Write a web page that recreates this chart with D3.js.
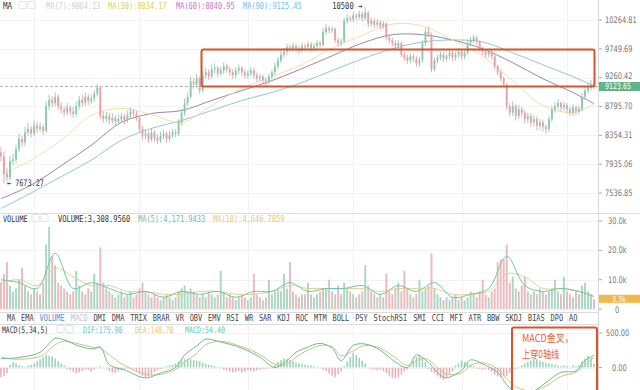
<!DOCTYPE html>
<html><head><meta charset="utf-8">
<script src="https://cdn.jsdelivr.net/npm/d3@7"></script>
<style>html,body{margin:0;padding:0;background:#fff;overflow:hidden}</style>
</head><body><svg id="c" width="640" height="390"></svg>
<script>
// ---------------- DATA ----------------
const opens=[8100,8050,7800,7750,7980,8000,8150,8300,8250,8400,8450,8380,8500,8450,8480,8420,8800,8900,8850,8950,8800,8750,8700,8780,8720,8680,8800,8900,8850,8950,8880,8920,9000,9100,8650,8600,8650,8580,8620,8560,8600,8640,8580,8660,8720,8690,8620,8450,8350,8380,8300,8400,8320,8280,8350,8380,8300,8360,8400,8380,8550,8700,8850,8950,9200,9150,9250,9050,9300,9350,9280,9400,9420,9330,9380,9450,9400,9350,9300,9380,9420,9350,9300,9330,9380,9300,9250,9280,9220,9200,9280,9350,9450,9550,9650,9700,9780,9750,9800,9760,9720,9800,9780,9830,9760,9800,9850,9820,10050,10120,10080,10100,9900,9850,9880,10250,10300,10280,10350,10320,10380,10300,10400,10200,10250,10180,10220,10150,10200,9950,9900,9850,9800,9850,9650,9600,9550,9620,9580,9500,9560,9850,10050,10000,9400,9550,9600,9650,9580,9620,9680,9600,9650,9700,9620,9680,9850,9900,9950,9880,9750,9700,9650,9700,9620,9450,9350,9250,9150,8800,8700,8800,8650,8750,8700,8600,8650,8550,8600,8500,8550,8480,8450,8600,8750,8800,8850,8780,8820,8750,8700,8780,8720,8760,8950,9050,9100,9150];
const highs=[8180,8120,7880,8050,8080,8220,8380,8350,8480,8540,8500,8580,8560,8550,8520,8880,8980,8960,9020,8990,8860,8800,8850,8820,8790,8870,8960,8980,9020,9000,8990,9060,9160,9130,8720,8710,8700,8690,8660,8670,8700,8680,8730,8780,8760,8730,8650,8500,8440,8420,8460,8440,8370,8410,8430,8410,8420,8450,8440,8600,8760,8920,9020,9280,9260,9320,9280,9380,9420,9400,9480,9500,9460,9440,9520,9490,9440,9400,9440,9480,9460,9400,9380,9440,9420,9350,9330,9310,9260,9330,9400,9510,9610,9720,9760,9840,9820,9860,9840,9800,9860,9840,9890,9870,9850,9910,9890,10120,10190,10160,10150,10130,9950,9930,10310,10370,10340,10410,10390,10440,10420,10500,10430,10310,10290,10280,10260,10250,10220,10000,9940,9900,9900,9880,9700,9650,9680,9660,9620,9610,9900,10120,10150,10040,9600,9650,9700,9690,9670,9730,9720,9700,9760,9740,9730,9910,9960,10000,9980,9900,9790,9740,9750,9730,9650,9480,9390,9280,9170,8850,8880,8840,8820,8790,8740,8700,8690,8660,8640,8600,8590,8520,8650,8810,8860,8910,8880,8870,8850,8790,8830,8810,8800,9010,9110,9170,9220,9180];
const lows=[7980,7673.27,7700,7710,7920,7950,8100,8180,8200,8350,8320,8340,8380,8400,8360,8400,8740,8790,8800,8740,8690,8640,8660,8660,8620,8640,8750,8790,8800,8820,8840,8870,8950,8600,8540,8550,8520,8530,8500,8510,8550,8520,8540,8610,8640,8570,8400,8290,8300,8240,8260,8260,8230,8240,8300,8250,8260,8310,8330,8340,8500,8650,8800,8920,9080,9100,9000,9020,9240,9220,9240,9340,9270,9280,9320,9340,9290,9240,9250,9320,9290,9240,9250,9280,9240,9190,9200,9160,9120,9150,9230,9300,9400,9500,9600,9650,9690,9700,9700,9660,9680,9720,9740,9700,9710,9750,9770,9790,9990,10020,10030,9850,9790,9800,9850,10190,10220,10230,10260,10270,10240,10260,10140,10150,10120,10130,10090,10100,9900,9840,9790,9740,9760,9600,9540,9490,9500,9520,9440,9450,9520,9800,9950,9350,9360,9500,9550,9520,9530,9570,9540,9550,9600,9560,9570,9650,9800,9850,9820,9700,9640,9590,9600,9560,9400,9300,9200,9100,8740,8640,8650,8580,8600,8640,8530,8540,8480,8490,8430,8440,8410,8380,8400,8560,8700,8750,8720,8730,8690,8640,8650,8660,8670,8720,8900,9000,9050,9080];
const closes=[8050,7800,7750,7980,8000,8150,8300,8250,8400,8450,8380,8500,8450,8480,8420,8800,8900,8850,8950,8800,8750,8700,8780,8720,8680,8800,8900,8850,8950,8880,8920,9000,9100,8650,8600,8650,8580,8620,8560,8600,8640,8580,8660,8720,8690,8620,8450,8350,8380,8300,8400,8320,8280,8350,8380,8300,8360,8400,8380,8550,8700,8850,8950,9200,9150,9250,9050,9300,9350,9280,9400,9420,9330,9380,9450,9400,9350,9300,9380,9420,9350,9300,9330,9380,9300,9250,9280,9220,9200,9280,9350,9450,9550,9650,9700,9780,9750,9800,9760,9720,9800,9780,9830,9760,9800,9850,9820,10050,10120,10080,10100,9900,9850,9880,10250,10300,10280,10350,10320,10380,10300,10400,10200,10250,10180,10220,10150,10200,9950,9900,9850,9800,9850,9650,9600,9550,9620,9580,9500,9560,9850,10050,10000,9400,9550,9600,9650,9580,9620,9680,9600,9650,9700,9620,9680,9850,9900,9950,9880,9750,9700,9650,9700,9620,9450,9350,9250,9150,8800,8700,8800,8650,8750,8700,8600,8650,8550,8600,8500,8550,8480,8450,8600,8750,8800,8850,8780,8820,8750,8700,8780,8720,8760,8950,9050,9100,9150,9123.65];
// volume in thousands
const volumes=[9,12,16,8,6,7,10,14,8,6,5,7,6,5,9, 22,28,18,15,9,8, 7,6,5,6,13,8,6,5,7,6,12,9,21, 9,7,6,5,4,5,6,4,5,6,4,5,7, 9,6,5,4,5,4,3,4,5,4,3,4,6,7,8,6, 7,6,5,4,5,4,6,5,4,5,13,6,4,5,4,3,4,5,4,3,4,12,5,4,3,4, 10,5,6,7,6,12,7,16,6,5,4,5,5,9,5,4,5,6,7,7, 10,6,5,8,5,9,7,6,5,4,5,6,15,8,6,5,4,5,4, 12,6,5,7,9,6,13,7,5,4,5,10,6,7,8,19, 7,5,4,3,4,3,4,5,3,4,3,4,6,5,4,6,10,5,4,6,7,16, 17,17,22,9,11,7,6,8,11,6,5,6,5,7,6,5, 6,7,10,6,5,11,6,5,4,6,5,8,9,6,5,3.309];
const maIdx=[0,10,20,30,40,50,60,70,80,90,100,110,120,130,140,150,160,170,180,190,197];
const ma30=[7780,7992,8281,8656,8765,8670,8550,8812,9082,9276,9480,9760,9990,10190,10155,9905,9629,9212,8812,8702,8834.17];
const ma60=[7460,7643,7913,8208,8549,8686,8733,8891,9050,9212,9411,9629,9850,9999,9999,9905,9750,9510,9244,9018,8840.95];
const ma90=[7330,7537,7760,7992,8281,8458,8579,8733,8891,9018,9180,9378,9576,9750,9870,9905,9870,9681,9476,9276,9125.45];
const volMaIdx=[0,6,12,18,24,30,36,42,48,54,60,66,72,78,84,90,96,102,108,114,120,126,132,138,144,150,156,162,168,174,180,186,192,197];
const volMa5=[10,9,7,19,7,9,7,5,6,4,6,5,6,4,6,6,9,6,7,7,8,5,8,6,9,4,5,7,18,8,6,7,6,4.17];
const volMa10=[9,10,8,14,11,8,8,6,6,5,5,6,6,5,5,6,8,7,7,7,7,6,7,7,7,5,5,6,12,11,7,7,6,4.65];
const macdIdx=[0,5,13,16,18,21,26,31,33,36,41,48,53,58,61,65,68,73,80,86,91,95,98,101,106,110,113,117,121,126,131,135,138,141,146,148,153,156,160,165,168,171,176,181,186,191,194,197];
const dif=[130,140,220,350,425,400,310,270,300,40,-35,-150,-80,0,180,310,410,370,280,150,0,100,220,280,350,280,100,320,340,250,80,0,180,110,-110,-150,-40,110,50,-70,-250,-360,-360,-220,-70,-50,100,175.98];
const dea=[150,120,160,250,330,380,340,290,280,180,30,-100,-100,-30,80,200,330,380,300,190,50,50,150,230,320,300,170,240,320,280,140,30,100,130,-40,-100,-80,30,70,-20,-160,-280,-340,-270,-130,-70,40,148.78];
const macdHist=[-140,-120,-80, 40,80,60,30, 20,10,30,40,60,90, 120,150,180,170,160,130, 90,60,30, -20,-40,-60,-80,-70,-50,-30,-40,-60,-30,-10, 20,10,-10, -50,-70,-80,-60,-40,-20, -10,10,-20,-50, -90,-120,-140,-130,-100,-70, -40,-20,10,20,30,40, 60,80,100,120,130,120,110,100,90,70, 50,40,30,20,10,-10, -30,-40,-60,-70,-60,-50,-70,-60,-40,-50,-60,-40, -30,-20,-20,-10,10, 40,80,110,130,120,110,90,70,60, 50,40,30,30,20,10, -10,-30,-50, -90,-120,-140,-100,-60,20, 90,150,210,180,140,100,60, -10,-20,-30,-40,-30,-50, -80,-120,-150,-160,-140,-100, -60,-30,20, 100,150,180,130,80, -20,-60,-80,-120, -160,-180,-150,-100,-60, 30,60,100,80,60,40,20, -10,-20,-30,-20, -40,-60,-100,-130,-140,-130,-120,-80, -40,-20,10, 30,60,80,100,130,120,100,80,70,60,50,40,30, 20,30,20,10,30,20,40, 90,130,170,140,54.4];
const priceTicks=[10264.81,9749.69,9260.42,8795.70,8354.31,7935.06,7536.85];
const volTicks=[30,20,10,0];
const macdTicks=[500,0];
const gridIdx=[11,46,82,117,153,188];
const tabs=["MA","EMA","VOLUME","MACD","DMI","DMA","TRIX","BRAR","VR","OBV","EMV","RSI","WR","SAR","KDJ","ROC","MTM","BOLL","PSY","StochRSI","SMI","CCI","MFI","ATR","BBW","SKDJ","BIAS","DPO","AO"];
const lastPrice=9123.65, lastVol="3.3k";
const maxLabel="10500", minLabel="7673.27";

// ---------------- DRAW ----------------
const svg=d3.select('#c');
const W=598, N=closes.length;
const mono="'DejaVu Sans Mono', monospace";
const sans="'DejaVu Sans',sans-serif";
const UP="#8ec8ae", DOWN="#e2a3aa";

const x=d3.scaleBand().domain(d3.range(N)).range([0,595]).paddingInner(0.36);
const cx=i=>x(i)+x.bandwidth()/2;
const y=d3.scaleLog().domain([7536.85,10264.81]).range([193,20]);
const yv=d3.scaleLinear().domain([0,10]).range([309,279.7]);
const ym=d3.scaleLinear().domain([0,500]).range([367.5,333]);

const defs=svg.append('defs');
defs.append('clipPath').attr('id','cMain').append('rect').attr('x',0).attr('y',0).attr('width',W).attr('height',212);
defs.append('clipPath').attr('id','cVol').append('rect').attr('x',0).attr('y',222).attr('width',W).attr('height',90);
defs.append('clipPath').attr('id','cMacd').append('rect').attr('x',0).attr('y',326).attr('width',W).attr('height',64);

// grid
const grid=svg.append('g').attr('stroke','#f2f2f2').attr('stroke-width',1);
gridIdx.forEach(i=>grid.append('line').attr('x1',Math.round(cx(i))+0.5).attr('x2',Math.round(cx(i))+0.5).attr('y1',0).attr('y2',390));
priceTicks.forEach(v=>grid.append('line').attr('x1',0).attr('x2',W).attr('y1',Math.round(y(v))+0.5).attr('y2',Math.round(y(v))+0.5));
volTicks.forEach(v=>grid.append('line').attr('x1',0).attr('x2',W).attr('y1',Math.round(yv(v))+0.5).attr('y2',Math.round(yv(v))+0.5));
macdTicks.forEach(v=>grid.append('line').attr('x1',0).attr('x2',W).attr('y1',Math.round(ym(v))+0.5).attr('y2',Math.round(ym(v))+0.5));

// separators
const sep=svg.append('g').attr('stroke','#dcdcdc');
sep.append('line').attr('x1',0).attr('x2',640).attr('y1',213.5).attr('y2',213.5);
sep.append('line').attr('x1',0).attr('x2',W).attr('y1',312.5).attr('y2',312.5);
sep.append('line').attr('x1',0).attr('x2',W).attr('y1',324.5).attr('y2',324.5);
svg.append('line').attr('x1',W+0.5).attr('x2',W+0.5).attr('y1',0).attr('y2',390).attr('stroke','#d6d6d6');

// squeezed text helper (narrow screenshot look)
function stext(sel,xp,yp,str,col,size,sx,fam){
  return sel.append('text').attr('transform',`translate(${xp},${yp}) scale(${sx},1)`)
    .attr('font-family',fam||mono).attr('font-size',size).attr('fill',col).text(str);
}
function mtext(xp,yp,str,col,cw,size){
  size=size||9;
  return stext(svg,xp,yp,str,col,size,(cw||4.2)/(0.602*size));
}

// main panel
const gm=svg.append('g').attr('clip-path','url(#cMain)');
gm.append('line').attr('x1',0).attr('x2',W).attr('y1',Math.round(y(lastPrice))+0.5).attr('y2',Math.round(y(lastPrice))+0.5)
  .attr('stroke','#b4b4b4').attr('stroke-dasharray','3,2');
const maLine=d3.line().x(d=>cx(d[0])).y(d=>y(d[1])).curve(d3.curveCatmullRom);
[[ma90,'#92c6da'],[ma60,'#a084a5'],[ma30,'#efe1aa']].forEach(([arr,col])=>{
  gm.append('path').attr('d',maLine(maIdx.map((k,j)=>[k,arr[j]]))).attr('fill','none').attr('stroke',col).attr('stroke-width',1);
});
const cg=gm.append('g');
d3.range(N).forEach(i=>{
  const col=closes[i]>=opens[i]?UP:DOWN;
  cg.append('line').attr('x1',cx(i)).attr('x2',cx(i)).attr('y1',y(highs[i])).attr('y2',y(lows[i])).attr('stroke',col).attr('stroke-width',0.9);
  const t=y(Math.max(opens[i],closes[i])), b=y(Math.min(opens[i],closes[i]));
  cg.append('rect').attr('x',x(i)).attr('width',x.bandwidth()).attr('y',t).attr('height',Math.max(0.8,b-t)).attr('fill',col);
});

// max/min labels
const iMax=d3.maxIndex(highs), iMin=d3.minIndex(lows);
mtext(cx(iMax)-33,y(highs[iMax])+2,maxLabel+" →","#333",4.3);
mtext(cx(iMin)+3,y(lows[iMin])+3,"← "+minLabel,"#333",4.1);

// orange rectangle (main)
svg.append('rect').attr('x',201.5).attr('y',49.5).attr('width',393).attr('height',37).attr('rx',2)
  .attr('fill','none').attr('stroke','#d5552d').attr('stroke-width',2);

function icons(x0,yc){
  [0,9].forEach(d=>svg.append('rect').attr('x',x0+d).attr('y',yc-4).attr('width',7).attr('height',7).attr('rx',1)
    .attr('fill','none').attr('stroke','#e2e2e2'));
}
mtext(3,9,"MA","#333",4.6);
icons(19,5.5);
mtext(46,9,"MA(7):9064.13","#cfcfcf");
mtext(108,9,"MA(30):8834.17","#dccf6a");
mtext(176,9,"MA(60):8840.95","#c678c4");
mtext(243,9,"MA(90):9125.45","#74c2e0");

// right axes
const ax=svg.append('g');
const axSx=0.74;
priceTicks.forEach((v,k)=>{
  const yy=y(v);
  ax.append('line').attr('x1',W+1).attr('x2',W+4).attr('y1',yy).attr('y2',yy).attr('stroke','#aaa');
  stext(ax,605,yy+(k===2?1.5:3),d3.format('.2f')(v),'#777',9,axSx,sans);
});
ax.append('rect').attr('x',W+1).attr('y',y(lastPrice)-4).attr('width',41).attr('height',9).attr('fill','#5fb48e');
stext(ax,605,y(lastPrice)+3.3,d3.format('.2f')(lastPrice),'#fff',8.5,axSx,sans);

// volume panel
mtext(3,222,"VOLUME","#333",4.1);
icons(32,218.5);
mtext(58,222,"VOLUME:3,308.9560","#333",4.25);
mtext(138,222,"MA(5):4,171.9433","#5fc1b0",4.2);
mtext(213,222,"MA(10):4,646.7859","#e6c877",4.2);
const gv=svg.append('g').attr('clip-path','url(#cVol)');
d3.range(N).forEach(i=>{
  const col=closes[i]>=opens[i]?UP:DOWN;
  gv.append('rect').attr('x',x(i)).attr('width',x.bandwidth()).attr('y',yv(volumes[i])).attr('height',yv(0)-yv(volumes[i]))
    .attr('fill',col).attr('opacity',0.75);
});
const vLine=d3.line().x(d=>cx(d[0])).y(d=>yv(d[1])).curve(d3.curveCatmullRom);
gv.append('path').attr('d',vLine(volMaIdx.map((k,j)=>[k,volMa10[j]]))).attr('fill','none').attr('stroke','#e8cf8a').attr('stroke-width',1);
gv.append('path').attr('d',vLine(volMaIdx.map((k,j)=>[k,volMa5[j]]))).attr('fill','none').attr('stroke','#6cc6a8').attr('stroke-width',1);
volTicks.forEach(v=>{
  const yy=yv(v);
  ax.append('line').attr('x1',W+1).attr('x2',W+4).attr('y1',yy).attr('y2',yy).attr('stroke','#aaa');
  const s=v===0?"0":d3.format('.1f')(v)+"k";
  stext(ax,v===0?615:608,v===0?yy+4:yy+3,s,'#777',9,axSx,sans);
});
ax.append('rect').attr('x',W+1).attr('y',yv(volumes[N-1])-4.5).attr('width',41).attr('height',8).attr('fill','#f3b84a');
stext(ax,612,yv(volumes[N-1])+2.5,lastVol,'#fff',8,0.8,sans);

// tab bar
let tx=7;
tabs.forEach(t=>{
  const col=t==="VOLUME"?"#4a8fd6":(t==="MACD"?"#c4c4c4":"#444");
  mtext(tx,321,t,col,4.2,9.5);
  tx+=t.length*4.28+5.55;
});

// MACD panel
mtext(2,333,"MACD(5,34,5)","#333",3.85);
icons(57,329.5);
mtext(83,333,"DIF:175.98","#6cc1c9",3.95);
mtext(135,333,"DEA:148.78","#e6c877",3.85);
mtext(185,333,"MACD:54.40","#6cc6a8",4.0);
const gmc=svg.append('g').attr('clip-path','url(#cMacd)');
d3.range(N).forEach(i=>{
  const v=macdHist[i];
  gmc.append('rect').attr('x',x(i)+0.2).attr('width',x.bandwidth()-0.4).attr('y',Math.min(ym(v),ym(0))).attr('height',Math.abs(ym(v)-ym(0)))
    .attr('fill',v>=0?'#94d4b9':'#eaadb4');
});
const mLine=d3.line().x(d=>cx(d[0])).y(d=>ym(d[1])).curve(d3.curveCatmullRom);
gmc.append('path').attr('d',mLine(macdIdx.map((k,j)=>[k,dea[j]]))).attr('fill','none').attr('stroke','#d8be7e').attr('stroke-width',1);
gmc.append('path').attr('d',mLine(macdIdx.map((k,j)=>[k,dif[j]]))).attr('fill','none').attr('stroke','#62bf98').attr('stroke-width',1);
macdTicks.forEach(v=>{
  const yy=ym(v);
  ax.append('line').attr('x1',W+1).attr('x2',W+4).attr('y1',yy).attr('y2',yy).attr('stroke','#aaa');
  stext(ax,v===0?612:606,yy+3,d3.format('.2f')(v),'#777',9,axSx,sans);
});
svg.append('rect').attr('x',512).attr('y',327.5).attr('width',85).attr('height',70).attr('rx',2)
  .attr('fill','none').attr('stroke','#d5552d').attr('stroke-width',2);
const cjk="'Noto Sans CJK SC','Noto Sans',sans-serif";
stext(svg,522,342,"MACD金叉，","#e0643c",10.5,0.86,cjk);
stext(svg,522,357.5,"上穿0轴线","#e0643c",10.5,0.78,cjk);
</script></body></html>
